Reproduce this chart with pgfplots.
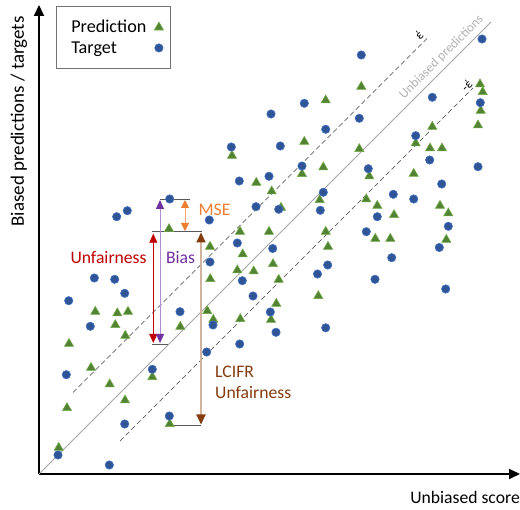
\documentclass[border=0pt]{standalone}
\usepackage{pgfplots}
\pgfplotsset{compat=1.18}
\usepackage{pgfplotstable}
\usepackage{fontspec}
\setmainfont{Carlito}
\usetikzlibrary{arrows.meta}
\definecolor{tgtfill}{HTML}{2F5597}
\definecolor{tgtedge}{HTML}{4472C4}
\definecolor{prdfill}{HTML}{548235}
\definecolor{prdedge}{HTML}{70AD47}
\definecolor{cred}{HTML}{C00000}
\definecolor{cpurple}{HTML}{7030A0}
\definecolor{cpurplel}{HTML}{B08CD0}
\definecolor{corange}{HTML}{ED7D31}
\definecolor{cbrown}{HTML}{843C0C}
\definecolor{ctan}{HTML}{D2B49E}
\definecolor{cgrayline}{HTML}{595959}
\newcommand\bigf{\fontsize{17.7}{21}\selectfont}
\newcommand\legf{\fontsize{18.2}{22}\selectfont}
\newcommand\ylf{\fontsize{19}{22}\selectfont}

\pgfplotstableread{
x y
77.7 257.3
88.3 263.3
130.7 275
322.3 419
265.3 370.7
232 360
320.3 355.7
286.7 344.7
192.3 327
241.3 328
263 308
230 297.7
200.3 293
284.3 281.7
217 267.3
239.7 264.7
281.3 263.7
170.3 254
198.3 231
233.7 225.5
443 435
393.3 376.7
441.3 371.3
376.7 338.3
390.7 314
439 307.3
329.3 305.3
402.7 290
354.3 279.7
374.7 275
338.3 257.3
409.3 247.7
327.3 242.3
400.3 226.5
55.3 196
75.7 194.7
85.7 180.7
29.7 173.3
141 162.3
51.3 147.7
113.3 104.7
27.3 99.3
130.3 58
85.7 50
19 19
70.3 9
171 212
203.3 193.3
288.7 209
278.5 200
214 178
231.3 162
174 149
237 141.7
286.7 146.2
200.7 130
167.7 122
352.7 216.3
336 194.7
406.7 185
}\targets

\pgfplotstableread{
x y
130 245
322.3 387.3
286.7 373.7
265.3 332.3
193 318.3
284.3 306.7
263 300
217.3 291.3
232.7 282.7
280.7 274
242 266.3
320.3 325
201 242.3
230 242.3
286.7 242.3
171 227.3
289 227.3
441 389.7
443.7 382
441.7 363.3
439 348.7
393.3 347.3
376.7 330.7
391 325.7
403 325.7
330.3 297.7
374.7 300.3
327.3 274.7
338.3 268.3
355 259
401 268.3
409.3 260.7
336.3 235.3
351.3 235.3
407.3 234.3
56.3 162.3
78.3 160.7
89 162.3
76.3 149
141.3 147.3
86.3 138.3
30 130.3
52 106.3
113.3 97
70.7 89.7
86 73.7
28 66
130.7 50
19.7 26.3
203.7 219.7
234 210
198.3 203.7
214.7 202.7
171.3 195
239.7 194.3
237.3 170.3
279.3 178
168.3 163
174.3 154.3
201.3 155
232 154.3
}\predictions

\begin{document}
\begin{tikzpicture}
\begin{axis}[
  at={(39bp,36bp)}, anchor=south west,
  scale only axis, width=481bp, height=469bp,
  xmin=0, xmax=481, ymin=0, ymax=469,
  axis lines*=left,
  axis line style={line width=2pt, -{Triangle[length=11bp,width=10bp]}},
  xtick=\empty, ytick=\empty,
  clip=false,
  font=\bigf,
  legend plot pos=right,
  legend cell align=left,
  legend style={at={(axis description cs:0.0353,0.9979)}, anchor=north west,
    draw=gray!90!black, line width=0.7pt, font=\legf,
    inner xsep=7bp, inner ysep=12bp, row sep=3bp,
    /tikz/every odd column/.append style={column sep=6bp}},
  legend image code/.code={\draw[mark repeat=2,mark phase=2] plot coordinates {(0bp,0bp)(4.5bp,0bp)(9bp,0bp)};},
]
% reference lines
\addplot[forget plot, gray!70, line width=1pt] coordinates {(0,0) (452,452)};
\addplot[forget plot, black!75, line width=0.7pt, dash pattern=on 5bp off 3bp] coordinates {(34,81.5) (388,435.5)};
\addplot[forget plot, black!75, line width=0.7pt, dash pattern=on 5bp off 3bp] coordinates {(81,33) (434,386)};

% annotation guides
\draw[cgrayline, line width=0.8pt] (axis cs:113,242.3) -- (axis cs:163,242.3);
\draw[cgrayline, line width=0.8pt] (axis cs:121,274.7) -- (axis cs:151,274.7);
\draw[cgrayline, line width=0.8pt] (axis cs:113,129.7) -- (axis cs:129,129.7);
\draw[cgrayline, line width=0.8pt] (axis cs:131,49) -- (axis cs:162,49);

% arrows
\draw[cred, line width=0.8pt, {Triangle[length=9bp,width=8bp]}-{Triangle[length=9bp,width=8bp]}]
  (axis cs:114.3,131) -- (axis cs:114.3,240.3);
\draw[cpurplel, line width=0.9pt, {Triangle[length=9bp,width=8bp,color=cpurple]}-{Triangle[length=9bp,width=8bp,color=cpurple]}]
  (axis cs:121,131) -- (axis cs:121,274);
\draw[corange!70, line width=0.9pt, {Triangle[length=8bp,width=8bp,color=corange]}-{Triangle[length=8bp,width=8bp,color=corange]}]
  (axis cs:146,243) -- (axis cs:146,274);
\draw[ctan, line width=1.8pt, {Triangle[length=10bp,width=9bp,color=cbrown]}-{Triangle[length=10bp,width=9bp,color=cbrown]}]
  (axis cs:162,49.5) -- (axis cs:162,241.5);

% data
\addplot[only marks, mark=triangle*, mark size=5.3bp,
  mark options={fill=prdfill, draw=prdedge, line width=0.6pt}]
  table[x=x,y=y] {\predictions};
\addlegendentry{\hspace{6bp}Prediction}
\addplot[only marks, mark=*, mark size=4.2bp,
  mark options={fill=tgtfill, draw=tgtedge, line width=0.6pt}]
  table[x=x,y=y] {\targets};
\addlegendentry{\hspace{6bp}Target}

% labels
\node[text=corange, anchor=center] at (axis cs:175.5,264) {MSE};
\node[text=cred, anchor=center] at (axis cs:69.5,216) {Unfairness};
\node[text=cpurple, anchor=center] at (axis cs:141.5,216) {Bias};
\node[text=cbrown, anchor=west, align=left, inner sep=0pt] at (axis cs:176,91.5) {LCIFR\\Unfairness};
\node[text=gray!60, rotate=45, font=\fontsize{13.2}{15}\selectfont, anchor=center] at (axis cs:402.5,417) {Unbiased predictions};
\node[rotate=45, font=\fontsize{13}{15}\selectfont, anchor=center] at (axis cs:380,439) {έ};
\node[rotate=45, font=\fontsize{13}{15}\selectfont, anchor=center] at (axis cs:427.7,388) {-έ};
\end{axis}
\node[rotate=90, font=\ylf, anchor=center] at (19bp,388.5bp) {Biased predictions / targets};
\node[font=\bigf, anchor=east, inner sep=0pt] at (520bp,13bp) {Unbiased score};
\pgfresetboundingbox
\path[use as bounding box] (0,0) rectangle (520bp,510bp);
\end{tikzpicture}
\end{document}
